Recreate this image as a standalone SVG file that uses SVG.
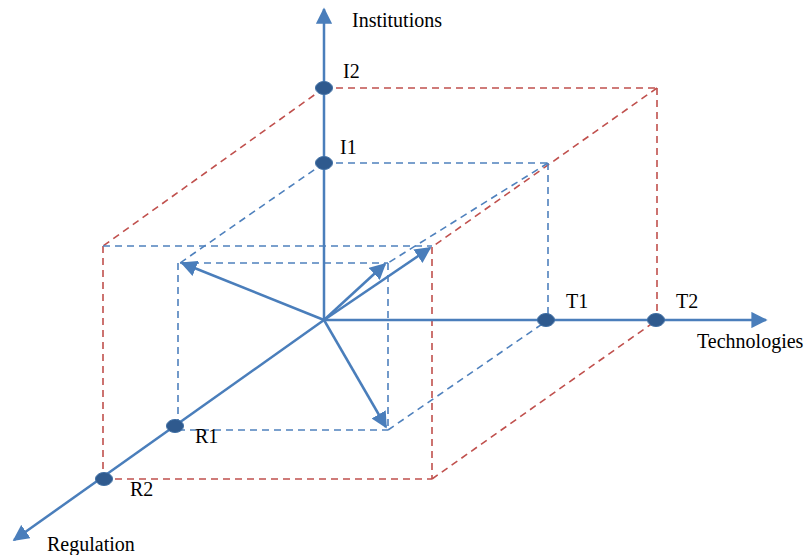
<svg xmlns="http://www.w3.org/2000/svg" width="811" height="555" viewBox="0 0 811 555">
<defs>
<marker id="ah" viewBox="0 0 10 10" refX="9" refY="5" markerWidth="6.5" markerHeight="6.5" markerUnits="strokeWidth" orient="auto">
<path d="M0,0 L10,5 L0,10 z" fill="#4a7ebb"/>
</marker>
</defs>
<style>
.axis{stroke:#4a7ebb;stroke-width:2.5;fill:none}
.vec{stroke:#4a7ebb;stroke-width:2.5;fill:none}
.bd{stroke:#4f81bd;stroke-width:1.6;fill:none;stroke-dasharray:7,5}
.rd{stroke:#c0504d;stroke-width:1.6;fill:none;stroke-dasharray:7,5}
.dot{fill:#2f5a8e;stroke:#3d6da3;stroke-width:1}
text{font-family:"Liberation Serif","Times New Roman",serif;font-size:20px;fill:#000}
</style>
<rect width="811" height="555" fill="#fff"/>
<g id="connectors">
<g id="outer-box">
<line class="rd" x1="324" y1="88" x2="657" y2="88"/>
<line class="rd" x1="324" y1="88" x2="103" y2="246"/>
<line class="rd" x1="657" y1="88" x2="432" y2="247"/>
<line class="rd" x1="657" y1="88" x2="657" y2="320"/>
<line class="rd" x1="103" y1="246" x2="103" y2="479"/>
<line class="rd" x1="103" y1="479" x2="432" y2="479"/>
<line class="rd" x1="432" y1="247" x2="432" y2="479"/>
<line class="rd" x1="432" y1="479" x2="657" y2="320"/>
<line class="bd" x1="103" y1="246" x2="432" y2="246"/>
</g>
<g id="inner-box">
<line class="bd" x1="324" y1="163" x2="548" y2="163"/>
<line class="bd" x1="324" y1="163" x2="180" y2="263"/>
<line class="bd" x1="548" y1="163" x2="388" y2="263"/>
<line class="bd" x1="548" y1="163" x2="548" y2="320"/>
<line class="bd" x1="180" y1="263" x2="388" y2="263"/>
<line class="bd" x1="178" y1="263" x2="178" y2="430"/>
<line class="bd" x1="388" y1="263" x2="388" y2="430"/>
<line class="bd" x1="178" y1="430" x2="388" y2="430"/>
<line class="bd" x1="388" y1="430" x2="548" y2="320"/>
</g>
<g id="axes">
<line class="axis" x1="324" y1="320" x2="324" y2="9" marker-end="url(#ah)"/>
<line class="axis" x1="324" y1="320" x2="766" y2="320" marker-end="url(#ah)"/>
<line class="axis" x1="324" y1="320" x2="14" y2="540" marker-end="url(#ah)"/>
</g>
<g id="vectors">
<line class="vec" x1="324" y1="320" x2="182" y2="263" marker-end="url(#ah)"/>
<line class="vec" x1="324" y1="320" x2="385" y2="264" marker-end="url(#ah)"/>
<line class="vec" x1="324" y1="320" x2="430" y2="248" marker-end="url(#ah)"/>
<line class="vec" x1="324" y1="320" x2="386" y2="427" marker-end="url(#ah)"/>
</g>
</g>
<g id="I2"><ellipse class="dot" cx="324" cy="88" rx="8.5" ry="6.5"/><text x="343" y="78">I2</text></g>
<g id="I1"><ellipse class="dot" cx="324" cy="163" rx="8.5" ry="6.5"/><text x="340" y="154">I1</text></g>
<g id="T1"><ellipse class="dot" cx="546" cy="320" rx="8.5" ry="6.5"/><text x="566" y="308">T1</text></g>
<g id="T2"><ellipse class="dot" cx="656" cy="320" rx="8.5" ry="6.5"/><text x="676" y="308">T2</text></g>
<g id="R1"><ellipse class="dot" cx="175" cy="426" rx="8.5" ry="6.5"/><text x="195" y="443">R1</text></g>
<g id="R2"><ellipse class="dot" cx="104" cy="479" rx="8.5" ry="6.5"/><text x="130" y="496">R2</text></g>
<g id="Institutions"><text x="352" y="27">Institutions</text></g>
<g id="Technologies"><text x="697" y="348">Technologies</text></g>
<g id="Regulation"><text x="47" y="551">Regulation</text></g>
</svg>
